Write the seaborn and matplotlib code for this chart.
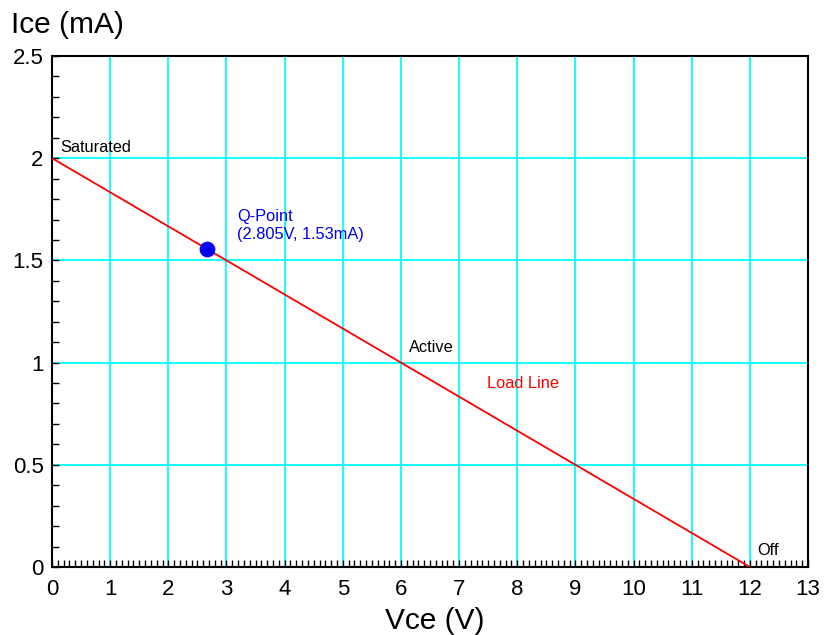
import numpy as np
import pandas as pd
import seaborn as sns
import matplotlib.pyplot as plt
from matplotlib.ticker import MultipleLocator

# load line end points and Q-point
vce = [0, 12]
ice = [2, 0]
q_vce = [2.66]
q_ice = [1.557]
q_label = "Q-Point\n(2.805V, 1.53mA)"
x_ticks = list(range(14))
y_ticks = [0, 0.5, 1, 1.5, 2, 2.5]
y_tick_labels = ['0', '0.5', '1', '1.5', '2', '2.5']

sns.set_style("white")
plt.rcParams['font.family'] = ['Liberation Sans', 'DejaVu Sans']
plt.rcParams['text.color'] = 'black'
plt.rcParams['xtick.color'] = 'black'
plt.rcParams['ytick.color'] = 'black'

fig = plt.figure(figsize=(8.3, 6.35), dpi=100)
ax = fig.add_axes([0.0627, 0.1071, 0.9108, 0.8047])

load = pd.DataFrame({'vce': vce, 'ice': ice})
sns.lineplot(data=load, x='vce', y='ice', color='red', lw=1.3, ax=ax, zorder=3)
sns.scatterplot(x=q_vce, y=q_ice, color='#0000ee', s=110, edgecolor='#0000ee', ax=ax, zorder=4)

ax.set_xlim(0, 13)
ax.set_ylim(0, 2.5)
ax.set_xticks(x_ticks)
ax.set_xticklabels([str(i) for i in x_ticks])
ax.xaxis.set_minor_locator(MultipleLocator(0.1))
ax.set_yticks(y_ticks)
ax.set_yticklabels(y_tick_labels)
ax.yaxis.set_minor_locator(MultipleLocator(0.1))
ax.grid(True, which='major', color='cyan', lw=1.3)
ax.tick_params(which='both', direction='in', left=True, bottom=True, top=False, right=False,
               labelsize=16, color='black', labelcolor='black')
ax.tick_params(axis='x', which='major', length=5, width=1, pad=9)
ax.tick_params(axis='y', which='major', length=5, width=1, pad=6)
ax.tick_params(which='minor', length=5, width=1)
for s in ax.spines.values():
    s.set_color('black')
    s.set_linewidth(1.5)
ax.set_xlabel('')
ax.set_ylabel('')

fig.text(0.013, 0.96, 'Ice (mA)', fontsize=21.5, color='black', ha='left', va='center')
fig.text(0.524, 0.022, 'Vce (V)', fontsize=21.5, color='black', ha='center', va='center')

ax.text(0.14, 2.05, 'Saturated', fontsize=11.8, color='black', va='center')
ax.text(3.18, 1.67, q_label, fontsize=11.8, color='#0000ee', va='center', linespacing=1.2)
ax.text(6.14, 1.076, 'Active', fontsize=11.8, color='black', va='center')
ax.text(7.48, 0.90, 'Load Line', fontsize=11.8, color='red', va='center')
ax.text(12.12, 0.083, 'Off', fontsize=11.8, color='black', va='center')

fig.savefig('out.png', dpi=100)
